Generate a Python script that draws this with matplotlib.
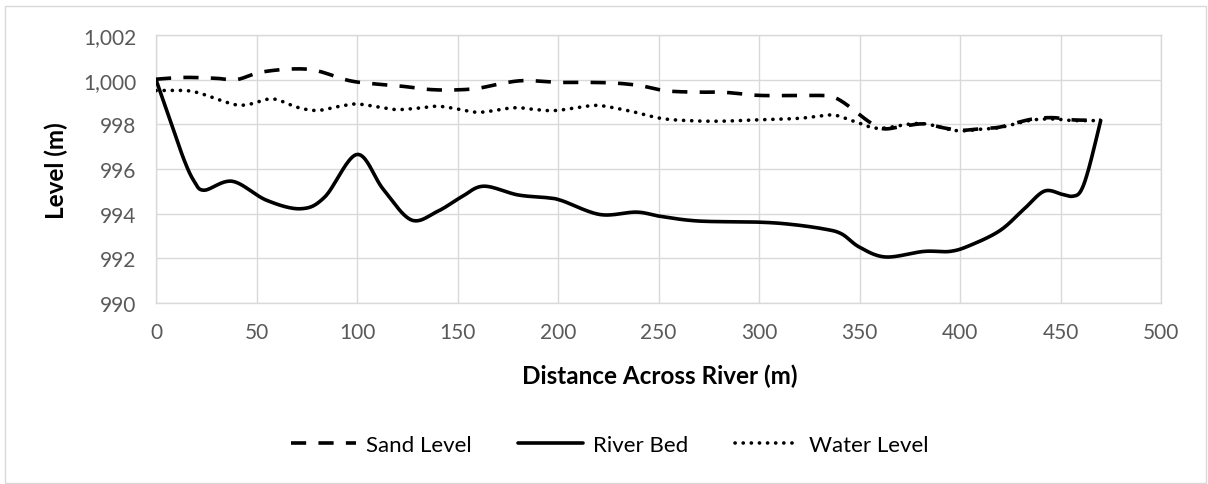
import numpy as np
import matplotlib
matplotlib.use('Agg')
import matplotlib.pyplot as plt
from matplotlib.ticker import MultipleLocator, FuncFormatter
from matplotlib.patches import Rectangle

plt.rcParams['font.family'] = ['Lato', 'DejaVu Sans']

# values: distance across river (m) and level (m)
bed_x = [0, 7, 14, 19, 24, 38, 55, 72, 84, 100, 113, 127, 140, 152, 163, 180,
         195, 202, 221, 239, 251, 270, 300, 316, 332, 341, 350, 363, 382, 395,
         405, 420, 432, 442, 451, 456, 460, 464, 470]
bed_y = [1000.0, 998.2, 996.4, 995.45, 995.05, 995.45, 994.6, 994.22, 994.75,
         996.65, 995.1, 993.72, 994.1, 994.75, 995.23, 994.84, 994.71, 994.58,
         993.96, 994.07, 993.88, 993.67, 993.62, 993.52, 993.32, 993.1, 992.5,
         992.06, 992.31, 992.31, 992.58, 993.25, 994.22, 995.01, 994.86, 994.78,
         995.0, 996.0, 998.17]

sand_x = [0, 14, 30, 40, 52, 68, 80, 96, 110, 123, 136, 148, 160, 173, 184, 200,
          214, 228, 241, 254, 270, 282, 299, 315, 332, 337, 343, 355, 362, 372,
          382, 392, 400, 410, 420, 435, 446, 456, 470]
sand_y = [1000.02, 1000.1, 1000.06, 1000.0, 1000.33, 1000.48, 1000.4, 999.96,
          999.8, 999.7, 999.56, 999.54, 999.61, 999.85, 999.96, 999.88, 999.88,
          999.85, 999.73, 999.5, 999.44, 999.44, 999.3, 999.29, 999.29, 999.22,
          998.92, 998.1, 997.8, 997.92, 998.02, 997.84, 997.73, 997.8, 997.88,
          998.22, 998.3, 998.2, 998.18]

water_x = [0, 15, 23, 30, 40, 47, 58, 70, 80, 91, 100, 113, 120, 130, 140, 150,
           161, 178, 189, 199, 217, 224, 237, 251, 264, 280, 299, 320, 335, 340,
           350, 360, 380, 398, 410, 420, 435, 446, 456, 470]
water_y = [999.51, 999.51, 999.36, 999.14, 998.87, 998.91, 999.14, 998.77,
           998.62, 998.8, 998.91, 998.74, 998.66, 998.72, 998.81, 998.69, 998.54,
           998.74, 998.66, 998.62, 998.84, 998.8, 998.57, 998.27, 998.17, 998.14,
           998.2, 998.27, 998.42, 998.36, 998.05, 997.82, 998.04, 997.72, 997.78,
           997.86, 998.18, 998.24, 998.17, 998.17]


def smooth(xs, ys, n=24):
    # excel-like smoothed line: bezier segments with catmull-rom handles
    p = np.column_stack([xs, ys]).astype(float)
    pe = np.vstack([p[0], p, p[-1]])
    t = np.linspace(0, 1, n)[:, None]
    out = [p[:1]]
    for i in range(len(p) - 1):
        p0, p1, p2, p3 = pe[i], pe[i + 1], pe[i + 2], pe[i + 3]
        c1 = p1 + (p2 - p0) / 6
        c2 = p2 - (p3 - p1) / 6
        seg = ((1 - t) ** 3) * p1 + 3 * ((1 - t) ** 2) * t * c1 \
            + 3 * (1 - t) * t ** 2 * c2 + t ** 3 * p2
        out.append(seg[1:])
    s = np.vstack(out)
    return s[:, 0], s[:, 1]


W, H = 1208, 485
fig = plt.figure(figsize=(W / 100, H / 100), dpi=100)
ax = fig.add_axes([156 / W, 1 - 304 / H, (1161 - 156) / W, (304 - 36) / H])

# chart area border
fig.patches.append(Rectangle((5 / W, 1 / H), (1206 - 5) / W, (484 - 7) / H,
                             transform=fig.transFigure, fill=False,
                             ec='#d9d9d9', lw=1))

lw = 2.6
x, y = smooth(sand_x, sand_y)
ax.plot(x, y, color='black', lw=lw, linestyle=(0, (4.2, 3.4)),
        dash_capstyle='butt', label='Sand Level', zorder=3)
x, y = smooth(bed_x, bed_y)
ax.plot(x, y, color='black', lw=lw, solid_capstyle='round',
        label='River Bed', zorder=3)
x, y = smooth(water_x, water_y)
ax.plot(x, y, color='black', lw=lw, linestyle=(0, (0.05, 2.2)),
        dash_capstyle='round', label='Water Level', zorder=3)

ax.set_xlim(0, 500)
ax.set_ylim(990, 1002)
ax.xaxis.set_major_locator(MultipleLocator(50))
ax.yaxis.set_major_locator(MultipleLocator(2))
ax.yaxis.set_major_formatter(FuncFormatter(lambda v, pos: '{:,.0f}'.format(v)))
ax.grid(True, color='#d9d9d9', lw=1.0)
ax.set_axisbelow(True)
for s in ax.spines.values():
    s.set_color('#d9d9d9')
    s.set_linewidth(1.0)
ax.tick_params(length=0, labelsize=15, labelcolor='#595959')
ax.tick_params(axis='y', pad=14)
ax.tick_params(axis='x', pad=14)

fig.text(56 / W, 1 - 171 / H, 'Level (m)', rotation=90, ha='center',
         va='center', fontsize=17.5, fontweight='bold')
fig.text(660 / W, 1 - 376 / H, 'Distance Across River (m)', ha='center',
         va='center', fontsize=17.5, fontweight='bold')

fig.legend(loc='center', bbox_to_anchor=(610 / W, 1 - 446 / H), ncol=3,
           frameon=False, fontsize=16, handlelength=2.9, handletextpad=0.45,
           columnspacing=2.1)

fig.savefig('out.png', dpi=100)
